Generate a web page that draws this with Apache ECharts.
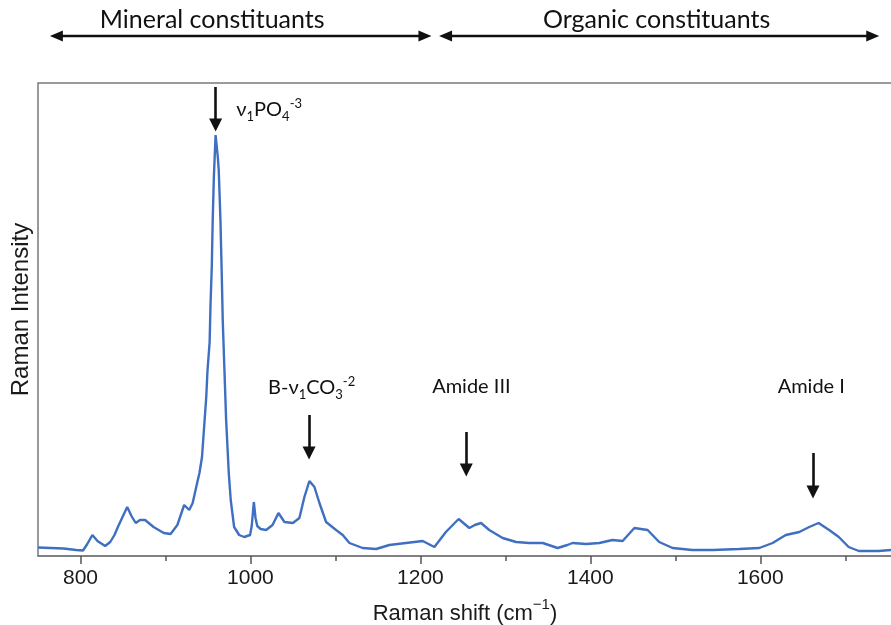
<!DOCTYPE html>
<html><head><meta charset="utf-8">
<script src="https://cdn.jsdelivr.net/npm/echarts@6/dist/echarts.min.js"></script>
<style>html,body{margin:0;padding:0;background:#fff}#c{width:891px;height:625px}</style>
</head><body><div id="c"></div>
<script>
// Raman spectrum (shift in cm-1, intensity in arbitrary units)
const ramanShift = [750,765,780,795,803,808,814,820,829,835,840,844,850,855,860,865,870,876,886,898,906,914,922,928,932,937,940,943,945,948,949.5,952,953,954.5,955.6,957,959,960.4,961.5,962.7,964.7,966.2,967.4,969.4,971.4,974.5,976.8,980.8,986.7,992.6,999.6,1001.5,1004,1006,1008,1012,1018.5,1026,1033,1040,1050,1057.6,1063.5,1069.4,1075.3,1081.2,1089,1100.8,1108.6,1116.5,1132,1148,1163.5,1183,1202.7,1216.5,1230,1245,1257.6,1264,1271.4,1281,1296.8,1312.6,1328,1344,1361.5,1373,1379,1395,1410.6,1426,1438,1451.8,1467.4,1481,1496.8,1520,1544,1575,1598.8,1614.5,1630,1645.9,1657.6,1668.6,1681,1692.4,1704,1716,1739,1755];
const ramanIntensity = [8.5,8,7.5,6,5.5,12,21,15,10,14,21,29,40,49,40,33,36,36,29,23,22,31,51,46,53,72,83,99,123,159,186,214,251,289,336,380,421,409,400,386,336,283,236,186,136,83,56,29,21,19,21,30,54,38,30,27,26,31,43,34,33,38,59,75,69,53,34,26,21,13,8,7,11,13,15,9,24,37,28,31,33,26,18,14,13,13,8,11,13,12,13,16,15,28,26,14,8,6,6,7,8,13,21,24,29,33,26,19,9,5,5,6];

const majorTicks = [800,1000,1200,1400,1600];
const minorTicks = [900,1100,1300,1500,1700];

// annotation arrows (x position, arrow start, arrow tip in intensity units)
const arrowX = [959,1069,1254,1662];
const arrowFrom = [469,141,124,103];
const arrowTo = [431,103,86,64];
// annotation labels
const labelX = [1022,1072,1260,1660];
const labelY = [446,168,169,169];
const labelText = [
  '{g|ν}{sub|1}{g|PO}{sub|4}{sup|-3}',
  '{g|B-ν}{sub|1}{g|CO}{sub|3}{sup|-2}',
  '{g|Amide III}',
  '{g|Amide I}'
];
// header spans
const headerText = ['Mineral constituants','Organic constituants'];
const headerTextX = [955,1478];
const headerFrom = [764,1222];
const headerTo = [1213,1740];

const chart = echarts.init(document.getElementById('c'), null, {renderer:'canvas'});
const lineColor = '#3f6fc1';
const annoFont = 'Lato';

const series = [{
  type:'line',
  xAxisIndex:0,
  data: ramanShift.map((x,i)=>[x, ramanIntensity[i]]),
  showSymbol:false,
  symbol:'none',
  lineStyle:{color:lineColor,width:2.4},
  itemStyle:{color:lineColor},
  animation:false,
  silent:true,
  markLine:{
    silent:true,
    animation:false,
    symbol:['none','triangle'],
    symbolSize:13,
    lineStyle:{color:'#111',width:2.6,type:'solid'},
    itemStyle:{color:'#111'},
    label:{show:false},
    data: arrowX.map((x,i)=>[{coord:[x,arrowFrom[i]]},{coord:[x,arrowTo[i]]}])
  },
  markPoint:{
    silent:true,
    animation:false,
    symbol:'rect',
    symbolSize:0,
    itemStyle:{color:'transparent'},
    label:{
      show:true,
      position:'inside',
      rich:{
        g:{fontFamily:annoFont,fontSize:20,color:'#111',lineHeight:26,verticalAlign:'middle'},
        sub:{fontFamily:annoFont,fontSize:13,color:'#111',lineHeight:14,verticalAlign:'bottom'},
        sup:{fontFamily:annoFont,fontSize:13,color:'#111',lineHeight:14,verticalAlign:'top'}
      }
    },
    data: labelX.map((x,i)=>({coord:[x,labelY[i]], label:{formatter:labelText[i]}}))
  }
}];

chart.setOption({
  animation:false,
  backgroundColor:'#fff',
  grid:{left:38,right:-1,top:83,bottom:69,show:true,borderColor:'#7a7a7a',borderWidth:1.5,backgroundColor:'transparent',containLabel:false,outerBoundsMode:'none'},
  xAxis:[{
    type:'value',min:750,max:1755,position:'bottom',
    axisLine:{show:true,lineStyle:{color:'#7a7a7a',width:1.5}},
    axisTick:{show:true,customValues:majorTicks,length:8,lineStyle:{color:'#555',width:1.5}},
    axisLabel:{show:true,customValues:majorTicks,margin:12,fontFamily:'Liberation Sans',fontSize:21,color:'#1a1a1a',formatter:v=>String(v)},
    splitLine:{show:false},
    name:'{n|Raman shift (cm}{s|−1}{n|)}',
    nameLocation:'middle',nameGap:41,
    nameTextStyle:{rich:{
      n:{fontFamily:'Liberation Sans',fontSize:22,color:'#1a1a1a',lineHeight:28,verticalAlign:'bottom'},
      s:{fontFamily:'Liberation Sans',fontSize:15,color:'#1a1a1a',lineHeight:18,verticalAlign:'top'}
    }}
  },{
    type:'value',min:750,max:1755,position:'bottom',
    axisLine:{show:false},
    axisTick:{show:true,customValues:minorTicks,length:5,lineStyle:{color:'#555',width:1.5}},
    axisLabel:{show:false},
    splitLine:{show:false}
  }],
  yAxis:{
    type:'value',min:0,max:473,
    axisLine:{show:false},axisTick:{show:false},axisLabel:{show:false},splitLine:{show:false},
    name:'Raman Intensity',nameLocation:'middle',nameGap:5,
    nameTextStyle:{fontFamily:'Liberation Sans',fontSize:24,color:'#1a1a1a',padding:[0,0,0,20]}
  },
  series: series
});

// header arrows spanning the mineral / organic regions
const hy = 36;
const graphics = [];
headerText.forEach((t,i)=>{
  const x0 = chart.convertToPixel({xAxisIndex:0}, headerFrom[i]);
  const x1 = chart.convertToPixel({xAxisIndex:0}, headerTo[i]);
  const xt = chart.convertToPixel({xAxisIndex:0}, headerTextX[i]);
  graphics.push({type:'line',shape:{x1:x0+8,y1:hy,x2:x1-8,y2:hy},style:{stroke:'#111',lineWidth:2.6}});
  graphics.push({type:'polygon',shape:{points:[[x0,hy],[x0+13,hy-5.5],[x0+13,hy+5.5]]},style:{fill:'#111'}});
  graphics.push({type:'polygon',shape:{points:[[x1,hy],[x1-13,hy-5.5],[x1-13,hy+5.5]]},style:{fill:'#111'}});
  graphics.push({type:'text',x:xt,y:20,style:{text:t,fontFamily:annoFont,fontSize:25,fill:'#111',align:'center',verticalAlign:'middle'}});
});
chart.setOption({graphic:graphics});
</script>
</body></html>
